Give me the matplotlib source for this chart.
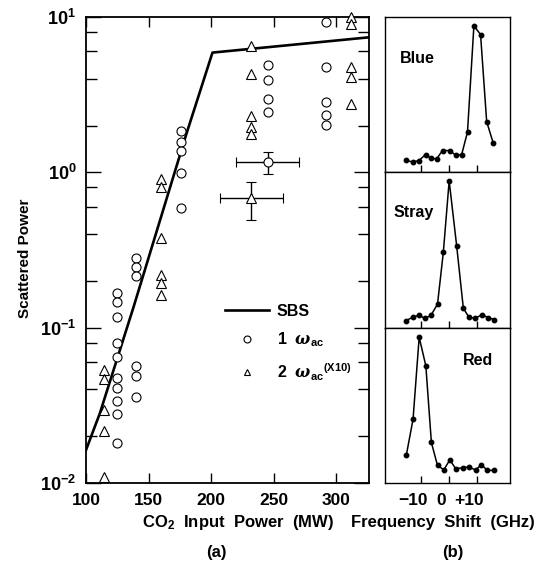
import matplotlib
matplotlib.use("Agg")
import matplotlib.pyplot as plt
from matplotlib.lines import Line2D
from matplotlib.ticker import FixedLocator, FixedFormatter, NullFormatter
from matplotlib.transforms import ScaledTranslation

plt.rcParams['font.family'] = ['Liberation Sans', 'DejaVu Sans']
plt.rcParams['font.weight'] = 'bold'
plt.rcParams['mathtext.fontset'] = 'custom'
plt.rcParams['mathtext.rm'] = 'Liberation Sans:bold'
plt.rcParams['mathtext.bf'] = 'Liberation Sans:bold'
plt.rcParams['mathtext.sf'] = 'Liberation Sans:bold'
plt.rcParams['mathtext.it'] = 'DejaVu Serif:italic'

# --- panel (a): scattered power vs CO2 input power ---
sbs_x = [100, 111, 138, 180, 201, 326]
sbs_y = [0.0163, 0.028, 0.136, 1.75, 5.9, 7.4]

circ_x = [125] * 10 + [140] * 6 + [176] * 5 + [245] * 4 + [292] * 5
circ_y = [0.166, 0.146, 0.117, 0.080, 0.0644, 0.0471, 0.041, 0.0336, 0.0278, 0.018,
          0.279, 0.244, 0.215, 0.0569, 0.049, 0.0356,
          1.85, 1.57, 1.38, 0.985, 0.59,
          4.91, 3.93, 2.98, 2.45,
          9.3, 4.74, 2.85, 2.34, 2.01]

tri_x = [114] * 5 + [160] * 6 + [232] * 5 + [312] * 5
tri_y = [0.0533, 0.0469, 0.0294, 0.0216, 0.011,
         0.905, 0.81, 0.38, 0.218, 0.193, 0.162,
         6.53, 4.3, 2.31, 1.97, 1.76,
         10.0, 8.97, 4.79, 4.09, 2.75]

# averaged points with error bars: x, y, x error, lower y error, upper y error
err_circ = (245, 1.17, 25, 0.20, 0.19)
err_tri = (232, 0.68, 25, 0.19, 0.19)

x_ticks = [100, 150, 200, 250, 300]
y_ticks = [0.01, 0.1, 1, 10]
y_tick_labels = [r'$\mathbf{10^{-2}}$', r'$\mathbf{10^{-1}}$', r'$\mathbf{10^{0}}$', r'$\mathbf{10^{1}}$']
y_minor = [m * 10.0 ** e for e in (-2, -1, 0) for m in (2, 4, 6, 8)]

# --- panel (b): spectra ---
blue_shift = [-15.5, -13.1, -10.8, -8.4, -6.5, -4.45, -2.3, 0.36, 2.4, 4.6, 6.7, 9.0, 11.4, 13.6, 16.0]
blue_sig = [0.079, 0.068, 0.077, 0.117, 0.093, 0.088, 0.143, 0.143, 0.113, 0.117, 0.265, 0.962, 0.905, 0.333, 0.19]

stray_shift = [-15.5, -12.9, -10.7, -8.7, -6.5, -4.1, -2.0, 0.1, 2.8, 5.2, 7.2, 9.4, 12.0, 14.2, 16.4]
stray_sig = [0.046, 0.069, 0.082, 0.061, 0.08, 0.154, 0.495, 0.964, 0.537, 0.128, 0.069, 0.061, 0.086, 0.065, 0.053]

red_shift = [-15.3, -12.9, -10.7, -8.3, -6.3, -4.1, -1.8, 0.36, 2.4, 4.9, 7.2, 9.6, 11.7, 13.8, 16.2]
red_sig = [0.185, 0.419, 0.957, 0.770, 0.266, 0.115, 0.087, 0.153, 0.094, 0.1, 0.106, 0.085, 0.121, 0.083, 0.083]

spectra = [('Blue', blue_shift, blue_sig), ('Stray', stray_shift, stray_sig), ('Red', red_shift, red_sig)]
shift_ticks = [-10, 0, 10]
shift_labels = ['\u221210', '0', '+10']

W, H = 546, 571
fig = plt.figure(figsize=(W / 100, H / 100), dpi=100)

ax = fig.add_axes([86 / W, 1 - 483 / H, 283 / W, 466 / H])
ax.set_yscale('log')
ax.set_xlim(100, 326)
ax.set_ylim(0.01, 10)

ax.plot(sbs_x, sbs_y, color='k', lw=1.9, zorder=3)
ax.plot(circ_x, circ_y, ls='none', marker='o', ms=6.5, mfc='white', mec='k', mew=0.8, clip_on=False, zorder=4)
ax.plot(tri_x, tri_y, ls='none', marker='^', ms=6.5, mfc='white', mec='k', mew=0.8, clip_on=False, zorder=4)
for (ex, ey, exx, elo, ehi), mk in [(err_circ, 'o'), (err_tri, '^')]:
    ax.errorbar([ex], [ey], xerr=[exx], yerr=[[elo], [ehi]], fmt=mk, ms=6.5, mfc='white', mec='k',
                mew=0.8, ecolor='k', elinewidth=1.0, capsize=3.5, capthick=1.0, zorder=4)

ax.xaxis.set_major_locator(FixedLocator(x_ticks))
ax.set_xticklabels([str(v) for v in x_ticks])
ax.yaxis.set_major_locator(FixedLocator(y_ticks))
ax.yaxis.set_major_formatter(FixedFormatter(y_tick_labels))
ax.yaxis.set_minor_locator(FixedLocator(y_minor))
ax.yaxis.set_minor_formatter(NullFormatter())
ax.tick_params(axis='both', which='both', direction='in', top=True, right=True, width=1.0)
ax.tick_params(axis='x', which='major', length=7, pad=7, labelsize=12.5)
ax.tick_params(axis='y', which='major', length=11, pad=7, labelsize=13)
ax.tick_params(axis='y', which='minor', length=8)
for s in ax.spines.values():
    s.set_linewidth(1.3)

handles = [Line2D([], [], color='k', lw=1.9),
           Line2D([], [], ls='none', marker='o', ms=5, mfc='white', mec='k', mew=0.8),
           Line2D([], [], ls='none', marker='^', ms=5, mfc='white', mec='k', mew=0.8)]
labels = ['SBS', r'1  $\it{\omega}_{\mathbf{ac}}$', r'2  $\it{\omega}_{\mathbf{ac}}$$^{\mathrm{(X10)}}$']
ax.legend(handles, labels, loc='upper left', bbox_to_anchor=(0.49, 0.385), frameon=False,
          borderpad=0, borderaxespad=0, handlelength=2.8, handletextpad=0.45, labelspacing=0.75,
          prop={'size': 11.5, 'weight': 'bold'})

# spectra panels
ph = 466 / 3
for i, (name, sx, sy) in enumerate(spectra):
    top = 17 + i * ph
    sax = fig.add_axes([385 / W, 1 - (top + ph) / H, 125 / W, ph / H])
    sax.plot(sx, sy, color='k', lw=1.1, marker='o', ms=3.2)
    sax.set_xlim(-23, 22)
    sax.set_ylim(0, 1.02)
    sax.set_yticks([])
    sax.xaxis.set_major_locator(FixedLocator(shift_ticks))
    sax.tick_params(axis='x', direction='in', length=5, width=1.0, labelsize=12.5, pad=7)
    if i == 2:
        sax.set_xticklabels(shift_labels)
        shift = ScaledTranslation(-8 / 100, 0, fig.dpi_scale_trans)
        for lab in sax.get_xticklabels():
            lab.set_transform(lab.get_transform() + shift)
    else:
        sax.set_xticklabels([])
    for s in sax.spines.values():
        s.set_linewidth(1.0)
    if name == 'Blue':
        sax.text(0.12, 0.73, name, transform=sax.transAxes, fontsize=11.5, va='center')
    elif name == 'Stray':
        sax.text(0.065, 0.74, name, transform=sax.transAxes, fontsize=11.5, va='center')
    else:
        sax.text(0.62, 0.79, name, transform=sax.transAxes, fontsize=11.5, va='center')

fig.text(25 / W, 1 - 258 / H, 'Scattered Power', rotation=90, ha='center', va='center', fontsize=11)
fig.text(238 / W, 1 - 522 / H, r'CO$_2$  Input  Power  (MW)', ha='center', va='center', fontsize=12)
fig.text(216 / W, 1 - 552 / H, '(a)', ha='center', va='center', fontsize=12)
fig.text(443 / W, 1 - 522 / H, 'Frequency  Shift  (GHz)', ha='center', va='center', fontsize=12)
fig.text(453 / W, 1 - 553 / H, '(b)', ha='center', va='center', fontsize=12)

fig.savefig('out.png', dpi=100)
